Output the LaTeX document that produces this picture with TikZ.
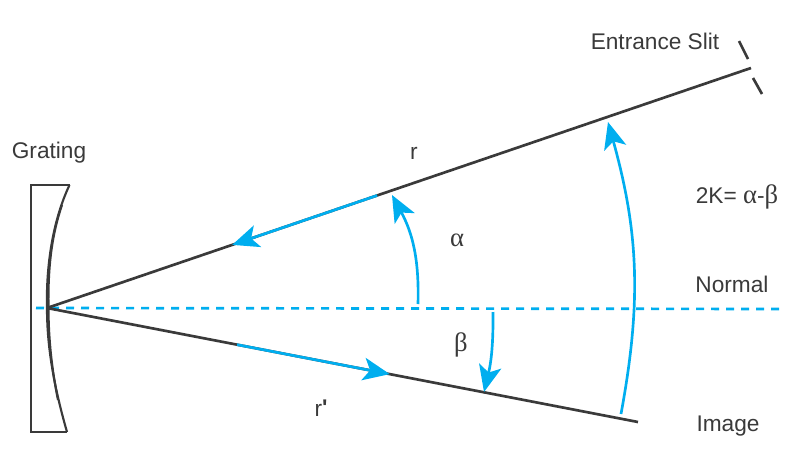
\documentclass[tikz,border=0pt]{standalone}
\usepackage{fontspec}
\setmainfont{Liberation Sans}
\newfontfamily\greekfont{Liberation Serif}
\newfontfamily\plainfont{Liberation Sans}
\usetikzlibrary{arrows.meta,calc}
\definecolor{raycol}{HTML}{00AEEF}
\definecolor{inkcol}{HTML}{3A3A3A}
\tikzset{
  lab/.style={text=inkcol,font=\fontsize{17}{19}\selectfont,inner sep=0pt},
  greek/.style={text=inkcol,font=\greekfont\fontsize{20}{22}\selectfont,inner sep=0pt},
  ray/.style={draw=inkcol,line width=2pt},
  outline/.style={draw=inkcol,line width=1.6pt},
  blue/.style={draw=raycol,line width=2pt,-{Stealth[length=20pt,width=17pt,inset=5pt,fill=raycol]}},
}
\begin{document}
\begin{tikzpicture}[x=0.75pt,y=-0.75pt]
\useasboundingbox (0,0) rectangle (800,469);

\coordinate (apex) at (47,308);
\coordinate (slit) at (751,68);
\coordinate (image) at (638,422);

% grating
\draw [outline,line join=miter] (69.5,185) -- (31,185) -- (31,432) -- (67,432);
\draw [outline] (69.5,185) .. controls (53,220) and (46,265) .. (apex)
   .. controls (47,350) and (55,390) .. (67,432);
\draw [outline] (62,205) .. controls (50,240) and (48,275) .. (48.5,308)
   .. controls (48.5,340) and (52,370) .. (58,400);

% normal
\coordinate (normalL) at (36,308);
\coordinate (normalR) at (783,309);
\draw [raycol,line width=2pt,dash pattern=on 6pt off 5.25pt] (normalL) -- (normalR);

% rays
\draw [ray] (apex) -- (slit);
\draw [ray] (apex) -- (image);

\coordinate (s1) at (739,41);
\coordinate (s2) at (748,59);
\coordinate (s3) at (753,78);
\coordinate (s4) at (762,94);
\draw [ray] (s1) -- (s2);
\draw [ray] (s3) -- (s4);

% blue parts of rays
\coordinate (r1) at ($(apex)!0.469!(slit)$);
\coordinate (r2) at ($(apex)!0.263!(slit)$);
\coordinate (q1) at ($(apex)!0.3215!(image)$);
\coordinate (q2) at ($(apex)!0.580!(image)$);
\draw [blue] (r1) -- (r2);
\draw [blue] (q1) -- (q2);

% angles
\coordinate (a1) at (418,304);
\coordinate (a2) at (392,195);
\coordinate (b1) at (493,312);
\coordinate (b2) at (484,392);
\coordinate (k1) at (621,414);
\coordinate (k2) at (608,122);
\draw [blue] (a1) to[bend right=15] (a2);
\draw [blue] (b1) to[bend left=7] (b2);
\draw [blue] (k1) to[bend right=13] (k2);

\node [lab] (grating) at (49,153) {Grating};
\node [lab] (rlab) at (414,153) {r};
\node [greek] (alab) at (457,240) {α};
\node [greek] (blab) at (461,345) {β};
\node [lab] (rplab) at (321,408) {r{\plainfont\bfseries\raisebox{1pt}{'}}};
\node [lab] (entrance) at (655,41) {Entrance Slit};
\node [lab] (kk) at (737,197) {2K= {\greekfont\fontsize{20}{22}\selectfont α}-{\greekfont\fontsize{20}{22}\selectfont β}};
\node [lab] (normal) at (732,284) {Normal};
\node [lab] (imagelab) at (728,426) {Image};
\end{tikzpicture}
\end{document}
